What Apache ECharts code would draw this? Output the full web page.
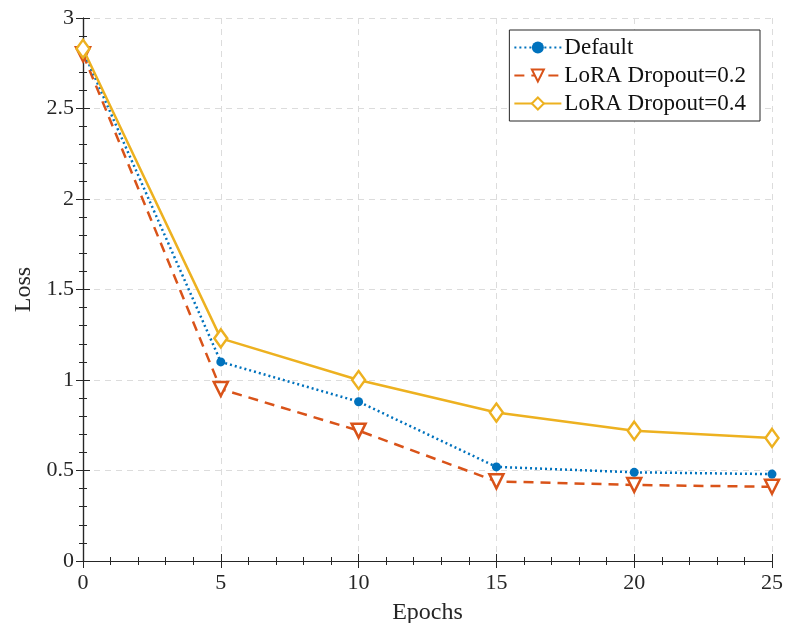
<!DOCTYPE html>
<html>
<head>
<meta charset="utf-8">
<script src="https://cdn.jsdelivr.net/npm/echarts@6/dist/echarts.min.js"></script>
<style>
  html, body { margin: 0; padding: 0; background: #fff; }
  #main { width: 786px; height: 623px; }
</style>
</head>
<body>
<div id="main"></div>
<script>
// data
const epochs = [0, 5, 10, 15, 20, 25];
const lossDefault = [2.82, 1.10, 0.88, 0.52, 0.49, 0.48];
const lossDrop02 = [2.80, 0.95, 0.72, 0.44, 0.42, 0.41];
const lossDrop04 = [2.83, 1.23, 1.00, 0.82, 0.72, 0.68];

const FONT = "Liberation Serif";
const pairs = ys => epochs.map((x, i) => [x, ys[i]]);

const chart = echarts.init(document.getElementById("main"));

// negative lengths so that ticks point into the plot
const innerTick = { show: true, length: -7, lineStyle: { color: "#262626" } };
const innerMinor = { show: true, splitNumber: 5, length: -4, lineStyle: { color: "#262626" } };
const gridLine = { show: true, lineStyle: { color: "#dcdcdc", type: [6, 5], width: 1 } };

function boxAxis(extra) {
  return Object.assign({
    type: "value",
    axisLine: { show: true, lineStyle: { color: "#262626", width: 1.2 } },
    axisTick: innerTick,
    minorTick: innerMinor,
    splitLine: { show: false },
    axisLabel: { show: false }
  }, extra);
}

const options = {
  animation: false,
  backgroundColor: "#fff",
  textStyle: { fontFamily: FONT },
  grid: { left: 83, right: 14, top: 18, bottom: 62, outerBoundsMode: "none", containLabel: false },
  legend: {
    orient: "vertical",
    right: 26,
    top: 30,
    padding: [6, 14, 6, 4],
    itemGap: 5,
    itemWidth: 47,
    itemHeight: 15,
    backgroundColor: "#fff",
    borderColor: "#262626",
    borderWidth: 1,
    borderRadius: 0,
    textStyle: { fontFamily: FONT, fontSize: 23, color: "#111", padding: [0, 0, 0, -2] },
    data: ["Default", "LoRA Dropout=0.2", "LoRA Dropout=0.4"]
  },
  xAxis: [
    boxAxis({
      min: 0, max: 25, interval: 5,
      name: "Epochs",
      nameLocation: "middle",
      nameGap: 40,
      nameTextStyle: { fontFamily: FONT, fontSize: 24, color: "#262626" },
      axisLabel: { show: true, fontFamily: FONT, fontSize: 22, color: "#262626", margin: 11 },
      splitLine: gridLine
    }),
    boxAxis({ min: 0, max: 25, interval: 5, position: "top" })
  ],
  yAxis: [
    boxAxis({
      min: 0, max: 3, interval: 0.5,
      name: "Loss",
      nameLocation: "middle",
      nameGap: 47,
      nameTextStyle: { fontFamily: FONT, fontSize: 24, color: "#262626" },
      axisLabel: { show: true, fontFamily: FONT, fontSize: 22, color: "#262626", margin: 9 },
      splitLine: gridLine
    }),
    boxAxis({ min: 0, max: 3, interval: 0.5, position: "right" })
  ],
  series: [
    {
      name: "Default",
      type: "line",
      data: pairs(lossDefault),
      symbol: "circle",
      symbolSize: 9,
      lineStyle: { color: "#0072BD", width: 2.5, type: [2, 3] },
      itemStyle: { color: "#0072BD" },
      z: 3
    },
    {
      name: "LoRA Dropout=0.2",
      type: "line",
      data: pairs(lossDrop02),
      symbol: "triangle",
      symbolRotate: 180,
      symbolSize: 14,
      lineStyle: { color: "#D95319", width: 2.5, type: [10, 7] },
      itemStyle: { color: "#fff", borderColor: "#D95319", borderWidth: 2.5 },
      z: 2
    },
    {
      name: "LoRA Dropout=0.4",
      type: "line",
      data: pairs(lossDrop04),
      symbol: "diamond",
      symbolSize: [13, 18],
      lineStyle: { color: "#EDB120", width: 2.5 },
      itemStyle: { color: "#fff", borderColor: "#EDB120", borderWidth: 2.5 },
      z: 4
    }
  ]
};

chart.setOption(options);
</script>
</body>
</html>
